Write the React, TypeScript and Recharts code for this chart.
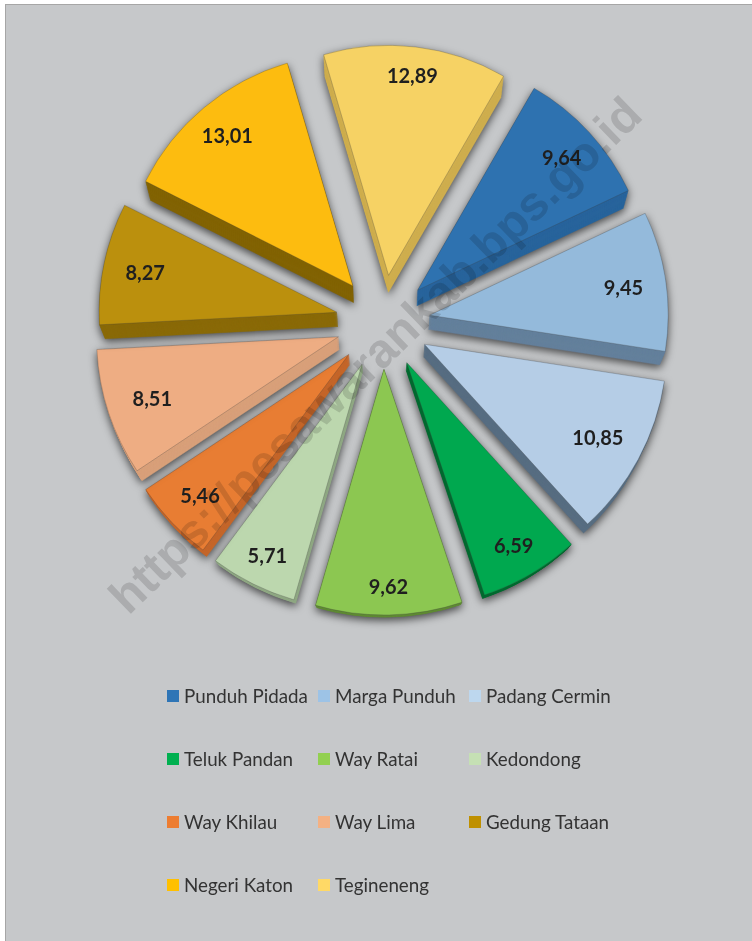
import React from 'react';
import { PieChart, Pie, Legend, Sector } from 'recharts';

const districts = ['Punduh Pidada', 'Marga Punduh', 'Padang Cermin', 'Teluk Pandan', 'Way Ratai', 'Kedondong', 'Way Khilau', 'Way Lima', 'Gedung Tataan', 'Negeri Katon', 'Tegineneng'];
const shares = [9.64, 9.45, 10.85, 6.59, 9.62, 5.71, 5.46, 8.51, 8.27, 13.01, 12.89];
const legendColors = ['#2e75b6', '#9dc3e6', '#bdd7ee', '#00b050', '#92d050', '#c5e0b4', '#ed7d31', '#f4b183', '#bf9000', '#ffc000', '#ffd966'];
const topColors = ['#2e72b0', '#94badb', '#b5cde6', '#00a84f', '#8cc751', '#bcd7ae', '#e87d33', '#eead83', '#bb900d', '#fdbc0f', '#f6d264'];
const sideColors = ['#28649c', '#64809c', '#586e82', '#006b30', '#5f8a34', '#8fa883', '#c4662a', '#d8a07a', '#8a6a08', '#826304', '#cfae4e'];
const watermark = 'https://pesawarankab.bps.go.id';

const table = districts.map((name, i) => ({
  name,
  value: shares[i],
  fill: legendColors[i],
  top: topColors[i],
  side: sideColors[i],
}));

const RAD = Math.PI / 180;
const EXPLODE = 47;

const Slice = (props: any) => {
  const { cx, cy, outerRadius, startAngle, endAngle, midAngle } = props;
  const row = props.payload ?? props;
  const top = row.top ?? props.top;
  const side = row.side ?? props.side;
  const up = Math.sin(midAngle * RAD);
  const r = outerRadius * (1 - (up > 0 ? 0.042 : 0.025) * up);
  const ox = EXPLODE * Math.cos(midAngle * RAD);
  const oy = -EXPLODE * Math.sin(midAngle * RAD);
  const depth = Math.round(up >= -0.5 ? 14 + 2 * up : 13 + 10 * (up + 0.5));
  const layers = [];
  for (let k = depth; k >= 1; k--) {
    const s = 1 - (0.02 * k) / depth;
    layers.push(
      <g key={k} transform={`translate(${cx} ${cy + k}) scale(${s}) translate(${-cx} ${-cy})`}>
        <Sector cx={cx + ox} cy={cy + oy} innerRadius={0} outerRadius={r} startAngle={startAngle} endAngle={endAngle} fill={side} stroke={side} strokeWidth={0.5} />
      </g>,
    );
  }
  return (
    <g style={{ filter: 'drop-shadow(0px 3px 4px rgba(0,0,0,0.65))' }}>
      {layers}
      <Sector cx={cx + ox} cy={cy + oy} innerRadius={0} outerRadius={r} startAngle={startAngle} endAngle={endAngle} fill={top} stroke="rgba(60,60,60,0.45)" strokeWidth={0.6} />
    </g>
  );
};

const sliceLabel = (props: any) => {
  const { cx, cy, midAngle, value } = props;
  const up = Math.sin(midAngle * RAD);
  const d = 243 + 38 * Math.max(0, -up - 0.45) + 30 * Math.max(0, up - 0.8);
  return (
    <text
      x={cx + d * Math.cos(midAngle * RAD)}
      y={cy - d * Math.sin(midAngle * RAD)}
      textAnchor="middle"
      dominantBaseline="central"
      fontFamily="Lato"
      fontWeight={700}
      fontSize={20}
      fill="#1f1f1f"
    >
      {value.toFixed(2).replace('.', ',')}
    </text>
  );
};

const LegendBox = ({ payload }: any) => (
  <div style={{ display: 'grid', gridTemplateColumns: '151px 151px 151px', gridAutoRows: '63px', fontFamily: 'Lato', fontSize: 18.8, color: '#333' }}>
    {(payload ?? []).map((p: any) => (
      <div key={p.value} style={{ display: 'flex', alignItems: 'center', height: 63, whiteSpace: 'nowrap' }}>
        <span style={{ display: 'inline-block', width: 12, height: 12, background: p.color, marginRight: 5 }} />
        <span>{p.value}</span>
      </div>
    ))}
  </div>
);

export default function App() {
  return (
    <div style={{ position: 'absolute', left: 0, top: 0, width: 752, height: 941, background: '#fff', overflow: 'hidden' }}>
      <div style={{ position: 'absolute', left: 5, top: 4, width: 747, height: 937, background: '#c6c8ca', borderLeft: '1px solid #a6a6a6', borderTop: '1px solid #a6a6a6', boxSizing: 'border-box' }} />
      <div style={{ position: 'absolute', left: 0, top: 0 }}>
        <PieChart width={752} height={941} margin={{ top: 0, right: 0, bottom: 0, left: 0 }}>
          <Pie
            data={table}
            dataKey="value"
            nameKey="name"
            cx={383}
            cy={322}
            innerRadius={0}
            outerRadius={240}
            startAngle={60}
            endAngle={-300}
            stroke="none"
            isAnimationActive={false}
            shape={Slice}
            label={sliceLabel}
            labelLine={false}
          />
          <Legend itemSorter={null} content={<LegendBox />} wrapperStyle={{ position: 'absolute', left: 167, top: 664, width: 460, height: 260, bottom: 'auto' }} />
        </PieChart>
      </div>
      <svg width={752} height={941} style={{ position: 'absolute', left: 0, top: 0, mixBlendMode: 'multiply', pointerEvents: 'none' }}>
        <text
          x={375}
          y={355}
          transform="rotate(-44 375 355)"
          textAnchor="middle"
          dominantBaseline="central"
          fontFamily="Liberation Sans"
          fontWeight={700}
          fontSize={48}
          fill="#dcdcdc"
        >
          {watermark}
        </text>
      </svg>
    </div>
  );
}
